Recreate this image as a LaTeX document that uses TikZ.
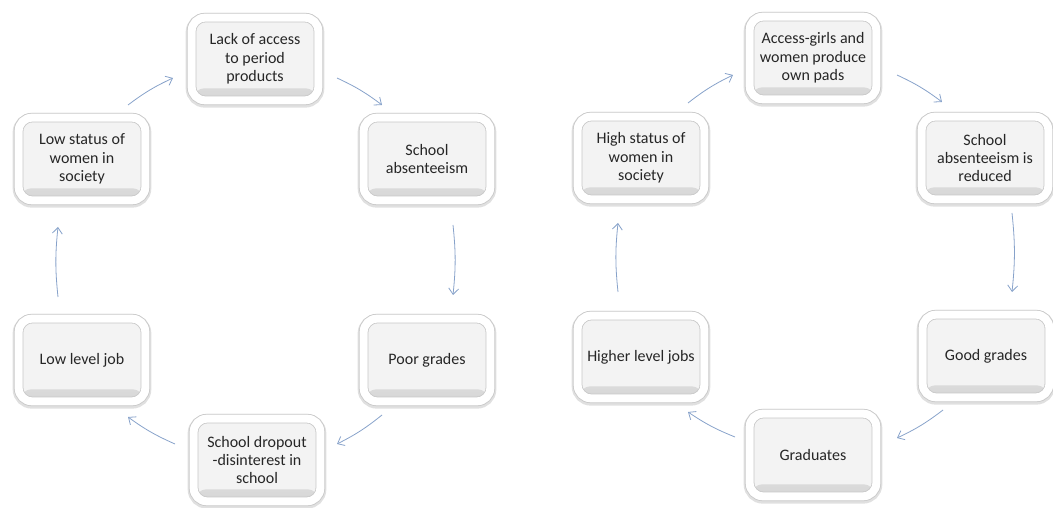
\documentclass[tikz,border=0pt]{standalone}
\usepackage{fontspec}
\setmainfont{Carlito}
\usetikzlibrary{arrows.meta}

\begin{document}
\begin{tikzpicture}[x=0.75pt,y=0.75pt,line width=0.4pt]
\definecolor{boxgrey}{RGB}{243,243,243}
\definecolor{rimgrey}{RGB}{200,200,200}
\definecolor{txtgrey}{RGB}{38,38,38}
\definecolor{flowblue}{RGB}{135,162,202}
\providecommand{\ftwelve}{\fontsize{12}{13.8}\selectfont}
\tikzset{cause/.style={draw=rimgrey,line width=0.6pt,double=white,double distance=6pt,fill=boxgrey,rounded corners=10pt,minimum width=95pt,minimum height=62pt,inner sep=0pt,align=center,font=\ftwelve,text=txtgrey,preaction={draw=black!12,line width=9pt,transform canvas={yshift=-1pt}},path picture={\shade[top color=boxgrey,bottom color=black!16] ([yshift=3pt]path picture bounding box.south west) rectangle ([yshift=9pt]path picture bounding box.south east);}},flow/.style={-{Straight Barb[length=4.5pt,width=7.5pt]},draw=flowblue,line width=0.6pt}}
\useasboundingbox (0,0) rectangle (1053,507);
% left: the vicious circle
\node[cause] (lack) at (255,448) {Lack of access\\to period\\products};
\node[cause] (absent) at (427,348) {School\\absenteeism};
\node[cause] (poor) at (427,147) {Poor grades};
\node[cause] (dropout) at (257,47) {School dropout\\-disinterest in\\school};
\node[cause] (lowjob) at (82,147) {Low level job};
\node[cause] (lowstatus) at (82,348) {Low status of\\women in\\society};
\draw[flow] ([shift={(46,54)}]lowstatus.center) to[bend left=6] ([shift={(-82,-19)}]lack.center);
\draw[flow] ([shift={(82,-19)}]lack.center) to[bend left=6] ([shift={(-45,54)}]absent.center);
\draw[flow] ([shift={(26,-66)}]absent.center) to[bend left=6] ([shift={(26,65)}]poor.center);
\draw[flow] ([shift={(-45,-55)}]poor.center) to[bend left=6] ([shift={(80,16)}]dropout.center);
\draw[flow] ([shift={(-82,16)}]dropout.center) to[bend left=6] ([shift={(46,-57)}]lowjob.center);
\draw[flow] ([shift={(-24,63)}]lowjob.center) to[bend left=6] ([shift={(-24,-68)}]lowstatus.center);
% right: the virtuous circle
\node[cause] (access) at (813,449) {Access-girls and\\women produce\\own pads};
\node[cause] (reduced) at (985,349) {School\\absenteeism is\\reduced};
\node[cause] (good) at (986,151) {Good grades};
\node[cause] (graduates) at (813,52) {Graduates};
\node[cause] (highjob) at (641,150) {Higher level jobs};
\node[cause] (highstatus) at (641,349) {High status of\\women in\\society};
\draw[flow] ([shift={(47,55)}]highstatus.center) to[bend left=6] ([shift={(-80,-17)}]access.center);
\draw[flow] ([shift={(84,-17)}]access.center) to[bend left=6] ([shift={(-43,56)}]reduced.center);
\draw[flow] ([shift={(27,-55)}]reduced.center) to[bend left=6] ([shift={(26,64)}]good.center);
\draw[flow] ([shift={(-43,-54)}]good.center) to[bend left=6] ([shift={(84,17)}]graduates.center);
\draw[flow] ([shift={(-78,18)}]graduates.center) to[bend left=6] ([shift={(47,-55)}]highjob.center);
\draw[flow] ([shift={(-23,65)}]highjob.center) to[bend left=6] ([shift={(-23,-65)}]highstatus.center);
\end{tikzpicture}
\end{document}
